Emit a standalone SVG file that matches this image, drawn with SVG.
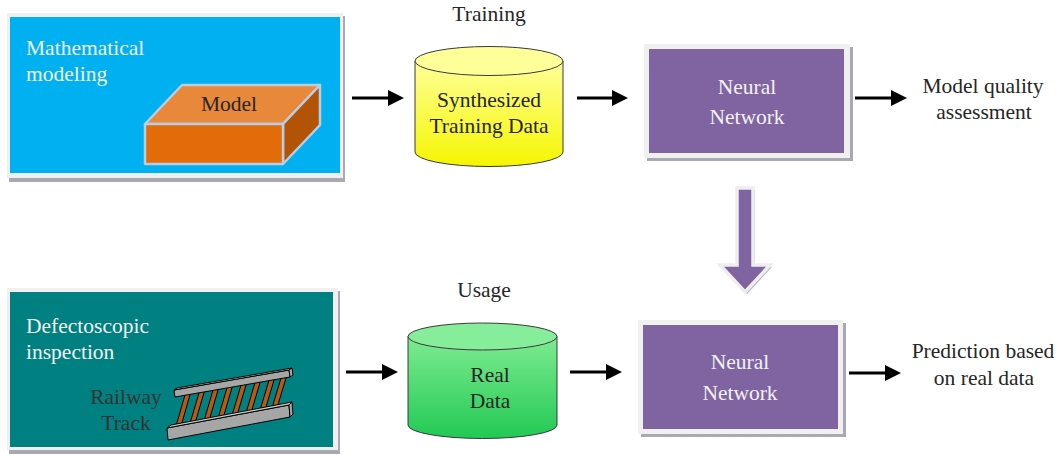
<svg xmlns="http://www.w3.org/2000/svg" width="1059" height="455" viewBox="0 0 1059 455">
  <style>
    .lbl { font-family: 'Liberation Serif', serif; font-size: 21.5px; fill: #262626; }
    .light { fill: #F2F2F2; }
    .mid { text-anchor: middle; }
    .frame { fill: #F0F0F0; }
    .shadow { fill: #A9A9B3; }
    .arrow-line { stroke: #000; stroke-width: 3; fill: none; }
    .cyl { stroke: #3A3A3A; stroke-width: 1; }
    .rail { fill: #A6A6A6; stroke: #000; stroke-width: 1; stroke-linejoin: round; }
    .rail-top { fill: #C9C9C9; stroke: #000; stroke-width: 1; stroke-linejoin: round; }
    .tie { fill: #B85A14; stroke: #000; stroke-width: 1; }
    .box3d { stroke: #B9CDE5; stroke-width: 2.5; stroke-linejoin: round; }
  </style>
  <defs>
    <linearGradient id="yellowBody" x1="0" y1="0" x2="0" y2="1">
      <stop offset="0" stop-color="#FFFF99"/>
      <stop offset="1" stop-color="#F5F500"/>
    </linearGradient>
    <linearGradient id="greenBody" x1="0" y1="0" x2="0" y2="1">
      <stop offset="0" stop-color="#7EEB91"/>
      <stop offset="1" stop-color="#22C954"/>
    </linearGradient>
    <marker id="head" viewBox="0 0 16 16" refX="0" refY="8" markerWidth="16" markerHeight="16" markerUnits="userSpaceOnUse" orient="auto">
      <path d="M0,0 L16,8 L0,16 Z" fill="#000"/>
    </marker>
  </defs>

  <rect width="1059" height="455" fill="#FFFFFF"/>

  <!-- Mathematical modeling panel -->
  <g id="modeling">
    <rect class="shadow" x="9" y="16" width="336" height="166"/>
    <rect class="frame" x="7" y="13" width="336" height="165"/>
    <rect x="10" y="17" width="330" height="156" fill="#00B0F0"/>
    <text class="lbl light" x="26" y="55">Mathematical</text>
    <text class="lbl light" x="26" y="81">modeling</text>
    <g id="model">
      <polygon class="box3d" points="145,124 182,85 320,85 283,124" fill="#E8883A"/>
      <polygon class="box3d" points="283,124 320,85 320,125 283,164" fill="#B35306"/>
      <rect class="box3d" x="145" y="124" width="138" height="40" fill="#E26B0A"/>
      <text class="lbl mid" x="229" y="111">Model</text>
    </g>
  </g>

  <!-- Defectoscopic inspection panel -->
  <g id="inspection">
    <rect class="shadow" x="9" y="291" width="331" height="163"/>
    <rect class="frame" x="7" y="288" width="331" height="162"/>
    <rect x="10" y="292" width="323" height="155" fill="#008080"/>
    <text class="lbl light" x="26" y="333">Defectoscopic</text>
    <text class="lbl light" x="26" y="359">inspection</text>
    <text class="lbl mid" x="126" y="404" style="fill:#333333">Railway</text>
    <text class="lbl mid" x="126" y="430" style="fill:#333333">Track</text>
    <g id="track">
      <!-- sleepers -->
      <polygon class="tie" points="185.5,393 190.5,393 180.5,428 175.5,428"/>
      <polygon class="tie" points="199.5,391 204.5,391 194.5,425 189.5,425"/>
      <polygon class="tie" points="213.5,388.5 218.5,388.5 208.5,422.5 203.5,422.5"/>
      <polygon class="tie" points="227.5,386 232.5,386 222.5,420 217.5,420"/>
      <polygon class="tie" points="241.5,383.5 246.5,383.5 236.5,417 231.5,417"/>
      <polygon class="tie" points="255.5,381 260.5,381 250.5,414.5 245.5,414.5"/>
      <polygon class="tie" points="269.5,378.5 274.5,378.5 264.5,412 259.5,412"/>
      <polygon class="tie" points="281.5,376.5 286.5,376.5 276.5,409.5 271.5,409.5"/>
      <!-- upper rail -->
      <polygon class="rail" points="174,390 289,370 290,377 175,397"/>
      <polygon class="rail-top" points="174,390 177,388 292,368 289,370"/>
      <polygon class="rail" points="289,370 292,368 293,375 290,377"/>
      <!-- lower rail -->
      <polygon class="rail" points="167,428 289,405 290,417 168,440"/>
      <polygon class="rail-top" points="167,428 171,425 292,402 289,405"/>
      <polygon class="rail" points="289,405 292,402 293,414 290,417"/>
    </g>
  </g>

  <!-- Stage captions -->
  <text class="lbl mid" x="489" y="21">Training</text>
  <text class="lbl mid" x="484" y="297">Usage</text>

  <!-- Synthesized training data store -->
  <g id="synth-data">
    <path class="cyl" d="M415,61 V152 A74,14.5 0 0 0 563,152 V61 Z" fill="url(#yellowBody)"/>
    <ellipse class="cyl" cx="489" cy="61" rx="74" ry="14.5" fill="#FFFF99"/>
    <text class="lbl mid" x="489" y="107">Synthesized</text>
    <text class="lbl mid" x="489" y="133">Training Data</text>
  </g>

  <!-- Real data store -->
  <g id="real-data">
    <path class="cyl" d="M408,336.5 V425 A74.5,13.5 0 0 0 557,425 V336.5 Z" fill="url(#greenBody)"/>
    <ellipse class="cyl" cx="482.5" cy="336.5" rx="74.5" ry="13.5" fill="#86EE9A"/>
    <text class="lbl mid" x="490" y="382">Real</text>
    <text class="lbl mid" x="490" y="408">Data</text>
  </g>

  <!-- Neural network (training) -->
  <g id="nn-train">
    <rect class="shadow" x="647" y="47" width="206" height="114"/>
    <rect class="frame" x="644" y="44" width="206" height="114"/>
    <rect x="649" y="49" width="195" height="104" fill="#8064A2"/>
    <text class="lbl light mid" x="747" y="94">Neural</text>
    <text class="lbl light mid" x="747" y="124">Network</text>
  </g>

  <!-- Neural network (usage) -->
  <g id="nn-use">
    <rect class="shadow" x="641" y="323" width="205" height="114"/>
    <rect class="frame" x="638" y="320" width="205" height="114"/>
    <rect x="643" y="325" width="195" height="104" fill="#8064A2"/>
    <text class="lbl light mid" x="740" y="369">Neural</text>
    <text class="lbl light mid" x="740" y="400">Network</text>
  </g>

  <!-- Output captions -->
  <g id="quality">
    <text class="lbl mid" x="983" y="93">Model quality</text>
    <text class="lbl mid" x="984" y="119">assessment</text>
  </g>
  <g id="prediction">
    <text class="lbl mid" x="983" y="358">Prediction based</text>
    <text class="lbl mid" x="984" y="385">on real data</text>
  </g>

  <!-- Connectors -->
  <g id="connectors">
    <line class="arrow-line" x1="352" y1="98" x2="388" y2="98" marker-end="url(#head)"/>
    <line class="arrow-line" x1="577" y1="98" x2="612" y2="98" marker-end="url(#head)"/>
    <line class="arrow-line" x1="855" y1="98" x2="891" y2="98" marker-end="url(#head)"/>
    <line class="arrow-line" x1="346" y1="372" x2="382" y2="372" marker-end="url(#head)"/>
    <line class="arrow-line" x1="570" y1="372" x2="606" y2="372" marker-end="url(#head)"/>
    <line class="arrow-line" x1="849" y1="373" x2="885" y2="373" marker-end="url(#head)"/>
    <!-- transfer of the trained network -->
    <polygon points="739,190 755,190 755,267 772,267 747,294 722,267 739,267" fill="#B8B8C0"/>
    <polygon points="737,188 753,188 753,265 770,265 745,292 720,265 737,265" fill="#8064A2" stroke="#EEEEEE" stroke-width="3.5" stroke-linejoin="miter"/>
  </g>
</svg>
